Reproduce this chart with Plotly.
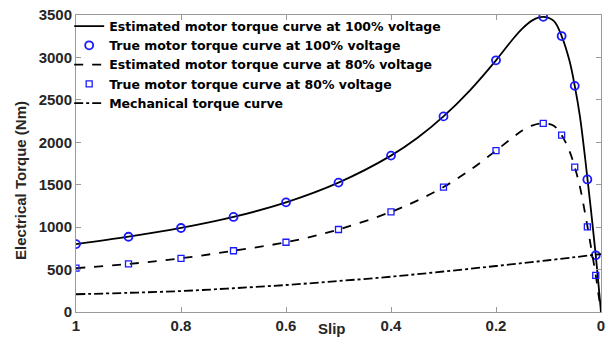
import plotly.graph_objects as go

# ---- data ----
slip_true = [1, 0.9, 0.8, 0.7, 0.6, 0.5, 0.4, 0.3, 0.2, 0.11, 0.075, 0.05, 0.026, 0.01]
true_100 = [800, 887, 990, 1120, 1292, 1525, 1843, 2305, 2966, 3478, 3252, 2665, 1562, 668]
true_80 = [516, 566, 633, 722, 822, 972, 1180, 1472, 1902, 2222, 2085, 1708, 1004, 432]

slip_est = [1, 0.9, 0.8, 0.7, 0.6, 0.5, 0.4, 0.35, 0.3, 0.25, 0.2, 0.17, 0.15, 0.13,
            0.11, 0.09, 0.075, 0.06, 0.05, 0.04, 0.03, 0.02, 0.01, 0.005, 0]
est_100 = [800, 887, 990, 1120, 1292, 1525, 1843, 2050, 2305, 2610, 2966, 3200, 3340, 3440,
           3478, 3430, 3252, 2960, 2665, 2300, 1800, 1250, 668, 340, 0]
est_80 = [516, 566, 633, 722, 822, 972, 1180, 1313, 1472, 1670, 1902, 2048, 2138, 2200,
          2222, 2195, 2085, 1895, 1708, 1472, 1152, 800, 432, 218, 0]

slip_mech = [1, 0.9, 0.8, 0.7, 0.6, 0.5, 0.4, 0.3, 0.2, 0.1, 0]
mech = [209, 226, 247, 280, 318, 365, 416, 477, 542, 610, 683]

x_ticks = [0, 0.2, 0.4, 0.6, 0.8, 1]
x_ticklabels = ["0", "0.2", "0.4", "0.6", "0.8", "1"]
y_ticks = [0, 500, 1000, 1500, 2000, 2500, 3000, 3500]

names = [
    "Estimated motor torque curve at 100% voltage",
    "True motor torque curve at 100% voltage",
    "Estimated motor torque curve at 80% voltage",
    "True motor torque curve at 80% voltage",
    "Mechanical torque curve",
]

FONT = "Arial, Liberation Sans, sans-serif"
LEG_FONT = "DejaVu Sans, Arial, sans-serif"
TXT = "#262626"
AX = "#9a9a9a"
BLUE = "#1a1aff"

fig = go.Figure()
fig.add_trace(go.Scatter(x=slip_est, y=est_100, mode="lines", name=names[0],
                         line=dict(color="black", width=1.8, shape="spline")))
fig.add_trace(go.Scatter(x=slip_true, y=true_100, mode="markers", name=names[1],
                         marker=dict(symbol="circle-open", size=8, color=BLUE,
                                     line=dict(width=1.8, color=BLUE))))
fig.add_trace(go.Scatter(x=slip_est, y=est_80, mode="lines", name=names[2],
                         line=dict(color="black", width=1.8, dash="dash", shape="spline")))
fig.add_trace(go.Scatter(x=slip_true, y=true_80, mode="markers", name=names[3],
                         marker=dict(symbol="square-open", size=6, color=BLUE,
                                     line=dict(width=1.3, color=BLUE))))
fig.add_trace(go.Scatter(x=slip_mech, y=mech, mode="lines", name=names[4],
                         line=dict(color="black", width=1.8, dash="dashdot", shape="spline")))

axis_common = dict(showline=True, linecolor=AX, linewidth=1, mirror="ticks",
                   ticks="inside", ticklen=5, tickcolor=AX, showgrid=False, zeroline=False,
                   automargin=False,
                   tickfont=dict(family=FONT, size=15, color=TXT, weight="bold"))

fig.update_xaxes(range=[1, 0], tickvals=x_ticks, ticktext=x_ticklabels, **axis_common)
fig.update_yaxes(range=[0, 3500], tickvals=y_ticks, **axis_common)

fig.add_annotation(text="Slip", xref="paper", yref="paper", x=0.4876, y=-0.055,
                   showarrow=False, xanchor="center", yanchor="middle",
                   font=dict(family=FONT, size=15, color=TXT, weight="bold"))
fig.add_annotation(text="Electrical Torque (Nm)", xref="paper", yref="paper",
                   x=-0.107, y=0.444, textangle=-90, showarrow=False,
                   xanchor="center", yanchor="middle",
                   font=dict(family=FONT, size=15, color=TXT, weight="bold"))

fig.update_layout(
    width=609, height=338,
    margin=dict(l=76, r=8, t=15, b=26, autoexpand=False),
    paper_bgcolor="white", plot_bgcolor="white",
    showlegend=True,
    legend=dict(x=-0.013, y=1.012, xanchor="left", yanchor="top",
                bgcolor="rgba(0,0,0,0)", borderwidth=0,
                font=dict(family=LEG_FONT, size=12.5, color="black", weight="bold"),
                tracegroupgap=0, itemwidth=30),
)

fig.write_html(
    "out.html",
    config={"displayModeBar": False},
    post_script="document.body.style.margin='0';document.body.style.overflow='hidden';",
)
